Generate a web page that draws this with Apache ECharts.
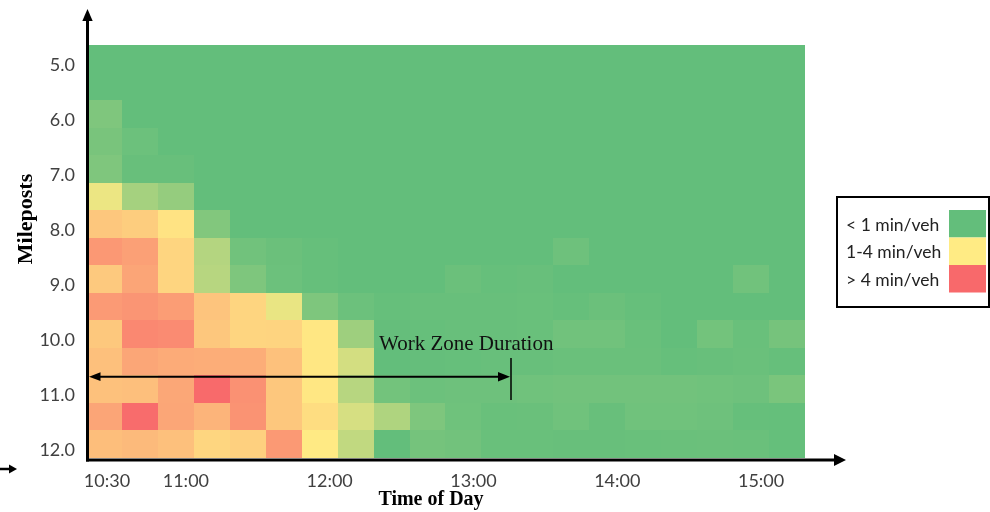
<!DOCTYPE html>
<html>
<head>
<meta charset="utf-8">
<script src="https://cdn.jsdelivr.net/npm/echarts@6/dist/echarts.min.js"></script>
<style>
    html, body {margin: 0; padding: 0; background: #fff;}
    #chart {width: 990px; height: 512px;}
</style>
</head>
<body>
<div id="chart"></div>
<script>
    // time columns (15 min) and milepost rows (0.5 mi)
    var times = ['10:30', '10:45', '11:00', '11:15', '11:30', '11:45', '12:00', '12:15', '12:30', '12:45',
        '13:00', '13:15', '13:30', '13:45', '14:00', '14:15', '14:30', '14:45', '15:00', '15:15'];
    var mileposts = ['5.0', '5.5', '6.0', '6.5', '7.0', '7.5', '8.0', '8.5', '9.0', '9.5',
        '10.0', '10.5', '11.0', '11.5', '12.0'];
    var timeTicks = ['10:30', '11:00', '12:00', '13:00', '14:00', '15:00'];

    // delay index per cell (0 = green, 5 = yellow, 10 = red)
    var mp050 = [0, 0, 0, 0, 0, 0, 0, 0, 0, 0, 0, 0, 0, 0, 0, 0, 0, 0, 0, 0];
    var mp055 = [0, 0, 0, 0, 0, 0, 0, 0, 0, 0, 0, 0, 0, 0, 0, 0, 0, 0, 0, 0];
    var mp060 = [0.9, 0, 0, 0, 0, 0, 0, 0, 0, 0, 0, 0, 0, 0, 0, 0, 0, 0, 0, 0];
    var mp065 = [0.7, 0.3, 0, 0, 0, 0, 0, 0, 0, 0, 0, 0, 0, 0, 0, 0, 0, 0, 0, 0];
    var mp070 = [0.9, 0.15, 0.15, 0, 0, 0, 0, 0, 0, 0, 0, 0, 0, 0, 0, 0, 0, 0, 0, 0];
    var mp075 = [4.4, 2.1, 1.6, 0, 0, 0, 0, 0, 0, 0, 0, 0, 0, 0, 0, 0, 0, 0, 0, 0];
    var mp080 = [6.4, 6.15, 5.3, 1.0, 0, 0, 0, 0, 0, 0, 0, 0, 0, 0, 0, 0, 0, 0, 0, 0];
    var mp085 = [8.2, 7.9, 5.85, 2.6, 0.45, 0.25, 0.1, 0, 0, 0, 0, 0, 0, 0.35, 0, 0, 0, 0, 0, 0];
    var mp090 = [6.3, 7.7, 5.85, 2.7, 0.85, 0.3, 0.1, 0, 0, 0, 0.25, 0.1, 0.15, 0, 0, 0, 0, 0, 0.45, 0];
    var mp095 = [8.1, 8.3, 8.0, 6.5, 5.85, 4.3, 0.85, 0.3, 0.1, 0.15, 0.15, 0.15, 0.2, 0.1, 0.25, 0.1, 0, 0, 0, 0];
    var mp100 = [6.35, 8.8, 8.7, 6.4, 5.85, 5.9, 5.15, 1.9, 0.05, 0.1, 0.15, 0.15, 0.2, 0.45, 0.45, 0.2, 0, 0.5, 0.2, 0.6];
    var mp105 = [6.65, 7.65, 7.45, 7.4, 7.4, 6.6, 5.15, 3.6, 0, 0.05, 0.1, 0.15, 0.15, 0.22, 0.22, 0.22, 0.1, 0.15, 0.22, 0.1];
    var mp110 = [6.6, 6.7, 7.6, 9.95, 8.45, 6.4, 5.15, 2.7, 0.5, 0.3, 0.35, 0.35, 0.42, 0.48, 0.48, 0.48, 0.48, 0.42, 0.35, 0.74];
    var mp115 = [7.7, 9.9, 7.65, 7.1, 8.4, 6.4, 5.55, 3.7, 2.45, 0.85, 0.4, 0.2, 0.22, 0.42, 0.16, 0.42, 0.42, 0.35, 0.1, 0.06];
    var mp120 = [6.75, 6.9, 6.65, 5.8, 6.05, 8.15, 5.05, 3.0, 0, 0.58, 0.48, 0.2, 0.2, 0.16, 0.16, 0.2, 0.22, 0.25, 0.22, 0.06];

    var rows = [mp050, mp055, mp060, mp065, mp070, mp075, mp080, mp085, mp090, mp095, mp100, mp105, mp110, mp115, mp120];

    var legendLabels = ['< 1 min/veh', '1-4 min/veh', '> 4 min/veh'];
    var scaleColors = ['#63BE7B', '#FFEB84', '#F8696B'];

    var cells = [];
    rows.forEach(function (row, y) {
        row.forEach(function (v, x) {
            cells.push([x, y, v]);
        });
    });

    var labelFont = {fontFamily: 'Lato', fontSize: 18, color: '#404040'};

    // legend box
    var legendItems = [{
        type: 'rect', shape: {x: 837, y: 197, width: 152, height: 110},
        style: {fill: '#fff', stroke: '#000', lineWidth: 2}
    }];
    legendLabels.forEach(function (t, i) {
        legendItems.push({
            type: 'rect', shape: {x: 949, y: 210 + i * 27.5, width: 37, height: 27.5},
            style: {fill: scaleColors[i]}
        });
        legendItems.push({
            type: 'text', x: 846, y: 225 + i * 27.5,
            style: {text: t, font: '17.5px Lato', fill: '#222', textVerticalAlign: 'middle'}
        });
    });

    // cells snapped to whole pixels so no seams show between them
    function renderCell(params, api) {
        var c = api.coord([api.value(0), api.value(1)]);
        var s = api.size([1, 1]);
        var w = Math.abs(s[0]), h = Math.abs(s[1]);
        var x0 = Math.round(c[0] - w / 2), x1 = Math.round(c[0] + w / 2);
        var y0 = Math.round(c[1] - h / 2), y1 = Math.round(c[1] + h / 2);
        return {
            type: 'rect',
            shape: {x: x0, y: y0, width: x1 - x0, height: y1 - y0},
            style: {fill: api.visual('color')}
        };
    }

    var Chart = echarts.init(document.getElementById('chart'));
    Chart.setOption({
        animation: false,
        grid: {left: 86, top: 45, width: 719, height: 412.5},
        xAxis: {
            type: 'category',
            data: times,
            axisLine: {show: false},
            axisTick: {show: false},
            splitLine: {show: false},
            axisLabel: {
                margin: 15,
                interval: function (i, v) { return timeTicks.indexOf(v) >= 0; },
                formatter: function (v, i) { return i === 0 ? '{a|' + v + '}' : '{b|' + v + '}'; },
                rich: {
                    a: Object.assign({padding: [0, 0, 0, 6]}, labelFont),
                    b: Object.assign({padding: [0, 0, 0, 20]}, labelFont)
                }
            }
        },
        yAxis: {
            type: 'category',
            data: mileposts,
            inverse: true,
            axisLine: {show: false},
            axisTick: {show: false},
            splitLine: {show: false},
            axisLabel: {
                interval: 1,
                margin: 11,
                formatter: function (v) { return '{m|' + v + '}'; },
                rich: {
                    m: Object.assign({padding: [12, 0, 0, 0]}, labelFont)
                }
            }
        },
        visualMap: {
            show: false,
            type: 'continuous',
            min: 0,
            max: 10,
            dimension: 2,
            inRange: {color: scaleColors}
        },
        series: [{
            type: 'custom',
            renderItem: renderCell,
            encode: {x: 0, y: 1},
            data: cells
        }],
        graphic: [
            // axes with arrows
            {type: 'line', z: 100, shape: {x1: 87.5, y1: 461.5, x2: 87.5, y2: 18}, style: {stroke: '#000', lineWidth: 3}},
            {type: 'polygon', z: 100, shape: {points: [[87.5, 9], [82.3, 21], [92.7, 21]]}, style: {fill: '#000'}},
            {type: 'line', z: 100, shape: {x1: 86, y1: 460, x2: 837, y2: 460}, style: {stroke: '#000', lineWidth: 3}},
            {type: 'polygon', z: 100, shape: {points: [[846, 460], [834, 454], [834, 466]]}, style: {fill: '#000'}},
            {type: 'line', z: 100, shape: {x1: 0, y1: 469, x2: 11, y2: 469}, style: {stroke: '#000', lineWidth: 2.5}},
            {type: 'polygon', z: 100, shape: {points: [[17, 469], [9, 464.5], [9, 473.5]]}, style: {fill: '#000'}},
            // work zone duration arrow
            {type: 'line', z: 100, shape: {x1: 95, y1: 376.7, x2: 502, y2: 376.7}, style: {stroke: '#000', lineWidth: 2}},
            {type: 'polygon', z: 100, shape: {points: [[89, 376.7], [100.5, 372.3], [100.5, 381.1]]}, style: {fill: '#000'}},
            {type: 'polygon', z: 100, shape: {points: [[510, 376.7], [498, 372], [498, 381.4]]}, style: {fill: '#000'}},
            {type: 'line', z: 100, shape: {x1: 511, y1: 358, x2: 511, y2: 400}, style: {stroke: '#000', lineWidth: 1.5}},
            {type: 'text', z: 100, x: 379, y: 344,
                style: {text: 'Work Zone Duration', font: '21px "Liberation Serif"', fill: '#111', textVerticalAlign: 'middle'}},
            // axis titles
            {type: 'text', z: 100, x: 431, y: 500,
                style: {text: 'Time of Day', font: 'bold 20px "Liberation Serif"', fill: '#000', textAlign: 'center', textVerticalAlign: 'middle'}},
            {type: 'text', z: 100, x: 26, y: 219, rotation: Math.PI / 2,
                style: {text: 'Mileposts', font: 'bold 22px "Liberation Serif"', fill: '#000', textAlign: 'center', textVerticalAlign: 'middle'}}
        ].concat(legendItems)
    });
</script>
</body>
</html>
